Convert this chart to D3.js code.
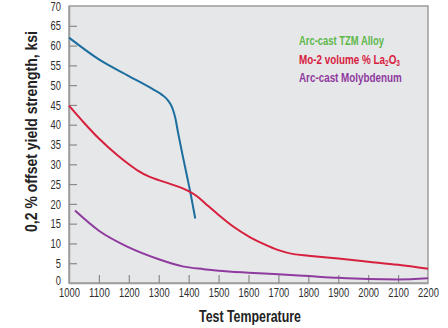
<!DOCTYPE html>
<html>
<head>
<meta charset="utf-8">
<script src="https://cdn.jsdelivr.net/npm/d3@7"></script>
<style>
  body { margin: 0; background: #fff; }
  text { font-family: "Liberation Sans", Arial, sans-serif; }
</style>
</head>
<body>
<div id="container"></div>
<script>
let w = 448;
let h = 328;

// data
let tzmTemps = [1000, 1100, 1200, 1280, 1310, 1330, 1345, 1355, 1365, 1380, 1395, 1408, 1422];
let tzmValues = [62, 56.5, 52.3, 49, 47.6, 46.2, 44.3, 41.8, 37.8, 32.2, 26.8, 22, 16.3];

let laTemps = [1000, 1050, 1100, 1160, 1200, 1230, 1270, 1300, 1340, 1400, 1430, 1460, 1500, 1550, 1600, 1650, 1700, 1750, 1800, 1900, 2000, 2100, 2200];
let laValues = [44.8, 40.5, 36.5, 32.4, 30, 28.4, 26.8, 26, 25, 23.2, 21.8, 19.8, 17.2, 14.2, 11.8, 9.9, 8.3, 7.3, 6.9, 6.2, 5.4, 4.6, 3.6];

let moTemps = [1020, 1100, 1200, 1300, 1380, 1450, 1500, 1600, 1700, 1800, 1900, 2000, 2100, 2200];
let moValues = [18.3, 13.2, 9.0, 6.0, 4.2, 3.5, 3.1, 2.6, 2.2, 1.75, 1.3, 1.0, 0.9, 1.2];

let xTicks = [1000, 1100, 1200, 1300, 1400, 1500, 1600, 1700, 1800, 1900, 2000, 2100, 2200];
let yTicks = [0, 5, 10, 15, 20, 25, 30, 35, 40, 45, 50, 55, 60, 65, 70];

let seriesNames = ["Arc-cast TZM Alloy", "Mo-2 volume % La", "Arc-cast Molybdenum"];
let seriesColors = ["#1c6e9f", "#d7203d", "#8f3a9e"];
let legendColors = ["#5db84a", "#d7203d", "#8f3a9e"];

let viz = d3.select("#container")
  .append("svg")
    .attr("width", w)
    .attr("height", h)
;

// squeeze a text element to a given width (reference uses a condensed face)
function squeeze(sel, width){
  sel.attr("textLength", width).attr("lengthAdjust", "spacingAndGlyphs");
}

let xScale = d3.scaleLinear().domain([1000, 2200]).range([69, 428]);
let yScale = d3.scaleLinear().domain([0, 70]).range([283, 6]);

// plot background
viz.append("rect")
  .attr("x", xScale(1000))
  .attr("y", yScale(70))
  .attr("width", xScale(2200) - xScale(1000))
  .attr("height", yScale(0) - yScale(70))
  .attr("fill", "#e6e7e9")
  .attr("stroke", "#9c9c9c")
  .attr("stroke-width", 1.5)
;

let xAxis = d3.axisBottom(xScale).tickValues(xTicks).tickSizeInner(-8).tickSizeOuter(0).tickPadding(5).tickFormat(d3.format("d"));
let xAxisGroup = viz.append("g").attr("class", "xaxis")
  .attr("transform", "translate(0," + yScale(0) + ")")
  .call(xAxis);

let yAxis = d3.axisLeft(yScale).tickValues(yTicks).tickSizeInner(-8).tickSizeOuter(0).tickPadding(8);
let yAxisGroup = viz.append("g").attr("class", "yaxis")
  .attr("transform", "translate(" + xScale(1000) + ",0)")
  .call(yAxis);

viz.selectAll(".xaxis .domain, .yaxis .domain").attr("stroke", "#9c9c9c").attr("stroke-width", 1.5);
viz.selectAll(".xaxis .tick line, .yaxis .tick line").attr("stroke", "#8a8a8a").attr("stroke-width", 1.2);
xAxisGroup.selectAll(".tick line").filter(function(d){ return d == 1000 || d == 2200; }).remove();
yAxisGroup.selectAll(".tick line").filter(function(d){ return d == 0 || d == 70; }).remove();
viz.selectAll(".xaxis text, .yaxis text")
  .attr("fill", "#2e2e2e")
  .attr("font-size", "13px")
  .attr("font-family", "'Liberation Sans', Arial, sans-serif")
  .each(function(d){
    let n = String(d).length;
    squeeze(d3.select(this), n * 5.2);
  });
yAxisGroup.selectAll(".tick text").filter(function(d){ return d == 0; }).attr("dy", "0.1em");

// lines
let line = d3.line()
  .x(function(d){ return xScale(d[0]); })
  .y(function(d){ return yScale(d[1]); })
  .curve(d3.curveMonotoneX);

let allSeries = [
  d3.zip(tzmTemps, tzmValues),
  d3.zip(laTemps, laValues),
  d3.zip(moTemps, moValues)
];

viz.append("g").selectAll("path")
  .data(allSeries)
  .enter()
  .append("path")
    .attr("d", line)
    .attr("fill", "none")
    .attr("stroke", function(d, i){ return seriesColors[i]; })
    .attr("stroke-width", 2)
;

// legend
let legend = viz.append("g").attr("class", "legend");
let legendY = [45, 63.5, 81.5];
let legendW = [85, 101, 103];
seriesNames.forEach(function(name, i){
  let t = legend.append("text")
    .attr("x", 0)
    .attr("y", 0)
    .attr("fill", legendColors[i])
    .attr("font-size", "13px")
    .attr("font-weight", "bold")
    .text(name);
  if (i == 1) {
    t.append("tspan").attr("font-size", "8.5px").attr("dy", 2).text("2");
    t.append("tspan").attr("dy", -2).text("O");
    t.append("tspan").attr("font-size", "8.5px").attr("dy", 2).text("3");
  }
  let len = t.node().getComputedTextLength();
  t.attr("transform", "translate(299," + legendY[i] + ") scale(" + (legendW[i] / len) + ",1)");
});

// axis titles
let xTitle = viz.append("text")
  .attr("x", 199)
  .attr("y", 322)
  .attr("font-size", "16px")
  .attr("font-weight", "bold")
  .attr("fill", "#222")
  .text("Test Temperature");
squeeze(xTitle, 102);

let yTitle = viz.append("text")
  .attr("transform", "translate(37,232) rotate(-90)")
  .attr("font-size", "16px")
  .attr("font-weight", "bold")
  .attr("fill", "#222")
  .text("0,2 % offset yield strength, ksi");
squeeze(yTitle, 201);
</script>
</body>
</html>
